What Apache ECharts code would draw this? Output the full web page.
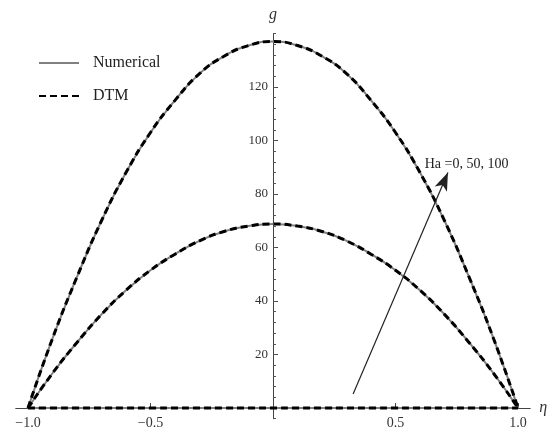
<!DOCTYPE html>
<html>
<head>
<meta charset="utf-8">
<title>g vs eta</title>
<script src="https://cdn.jsdelivr.net/npm/echarts@6/dist/echarts.min.js"></script>
<style>
  html, body { margin: 0; padding: 0; background: #fff; }
  #main { width: 555px; height: 432px; }
</style>
</head>
<body>
<div id="main"></div>
<script type="text/javascript">
    // eta positions and g values (Ha = 0, 50, 100)
    var etaVals = [-1.0, -0.9, -0.8, -0.7, -0.6, -0.5, -0.4, -0.3, -0.2, -0.1, 0.0,
                   0.1, 0.2, 0.3, 0.4, 0.5, 0.6, 0.7, 0.8, 0.9, 1.0];
    var gHa0   = [0, 26, 49, 70, 88, 103, 115, 125, 131.5, 135.5, 137,
                  135.5, 131.5, 125, 115, 103, 88, 70, 49, 26, 0];
    var gHa50  = [0, 13, 24.5, 35, 44, 51.5, 57.5, 62.5, 66, 68, 68.8,
                  68, 66, 62.5, 57.5, 51.5, 44, 35, 24.5, 13, 0];
    var gHa100 = [0, 0, 0, 0, 0, 0, 0, 0, 0, 0, 0,
                  0, 0, 0, 0, 0, 0, 0, 0, 0, 0];
    var xTickVals = [-1.0, -0.5, 0.5, 1.0];
    var yTickVals = [20, 40, 60, 80, 100, 120];
    var arrowFrom = [0.327, 5.2];
    var arrowTo = [0.714, 88];
    var arrowText = 'Ha =0, 50, 100';

    var X_MIN = -1.05, X_MAX = 1.05, Y_MIN = -4, Y_MAX = 140;

    function pairs(ys) {
        return etaVals.map(function (x, i) { return [x, ys[i]]; });
    }

    var serif = 'Liberation Serif';
    var curves = [gHa0, gHa50, gHa100];
    var series = [];

    // Numerical: solid grey, drawn underneath
    curves.forEach(function (c) {
        series.push({
            name: 'Numerical', type: 'line', smooth: true, symbol: 'none',
            data: pairs(c), z: 2,
            lineStyle: { color: '#808080', width: 2 },
            itemStyle: { color: '#808080' }
        });
    });
    // DTM: black dashes on top
    curves.forEach(function (c) {
        series.push({
            name: 'DTM', type: 'line', smooth: true, symbol: 'none',
            data: pairs(c), z: 3,
            lineStyle: { color: '#000', width: 3, type: [7, 4] },
            itemStyle: { color: '#000' }
        });
    });
    // arrow + label
    series[0].markLine = {
        silent: true, symbol: ['none', 'arrow'], symbolSize: [10, 18],
        lineStyle: { color: '#222', width: 1.2, type: 'solid' },
        label: { show: false },
        data: [[{ coord: arrowFrom }, { coord: arrowTo }]]
    };
    series[0].markPoint = {
        silent: true, symbol: 'circle', symbolSize: 0,
        label: { show: true, formatter: arrowText, color: '#222',
                 fontFamily: serif, fontSize: 14, position: 'inside' },
        data: [{ coord: [0.79, 91] }]
    };

    var myChart = echarts.init(document.getElementById('main'));
    myChart.setOption({
        animation: false,
        backgroundColor: '#fff',
        grid: { left: 15.75, right: 24.75, top: 33.5, bottom: 13.3,
                containLabel: false, outerBoundsMode: 'none' },
        legend: {
            data: ['Numerical', 'DTM'],
            orient: 'vertical', left: 38, top: 55,
            itemWidth: 40, itemHeight: 16, itemGap: 17, padding: 0,
            itemStyle: { opacity: 0 },
            textStyle: { fontFamily: serif, fontSize: 16, color: '#222',
                         padding: [0, 0, 0, 9] }
        },
        xAxis: {
            type: 'value', min: X_MIN, max: X_MAX, position: 'bottom',
            name: 'η', nameLocation: 'end', nameGap: 9,
            nameTextStyle: { fontFamily: serif, fontStyle: 'italic', fontSize: 16, color: '#333',
                             verticalAlign: 'middle' },
            axisLine: { onZero: false, lineStyle: { color: '#444', width: 1 } },
            axisTick: { show: true, inside: true, length: 5, customValues: xTickVals,
                        lineStyle: { color: '#444' } },
            axisLabel: {
                customValues: xTickVals, margin: 8,
                fontFamily: serif, fontSize: 14, color: '#333',
                formatter: function (v) {
                    return (v < 0 ? '\u2212' : '') + Math.abs(v).toFixed(1);
                }
            },
            splitLine: { show: false }
        },
        yAxis: [{
            type: 'value', min: Y_MIN, max: Y_MAX, position: 'left',
            name: 'g', nameLocation: 'end', nameGap: 11,
            nameTextStyle: { fontFamily: serif, fontStyle: 'italic', fontSize: 16, color: '#333' },
            axisLine: { onZero: false, lineStyle: { color: '#444', width: 1 } },
            axisTick: { show: true, inside: true, length: 5, customValues: yTickVals,
                        lineStyle: { color: '#444' } },
            axisLabel: { customValues: yTickVals, margin: 5,
                         fontFamily: serif, fontSize: 13, color: '#333' },
            splitLine: { show: false }
        }, {
            type: 'value', min: Y_MIN, max: Y_MAX, interval: 4, position: 'left',
            axisLine: { show: false, onZero: false },
            axisTick: { show: true, inside: true, length: 3, lineStyle: { color: '#555' } },
            axisLabel: { show: false },
            splitLine: { show: false }
        }],
        series: series
    });

    // move the axes so they cross at (0, 0), like the original figure
    var x0 = myChart.convertToPixel({ xAxisIndex: 0 }, 0);
    var xLeft = myChart.convertToPixel({ xAxisIndex: 0 }, X_MIN);
    var y0 = myChart.convertToPixel({ yAxisIndex: 0 }, 0);
    var yBottom = myChart.convertToPixel({ yAxisIndex: 0 }, Y_MIN);
    myChart.setOption({
        xAxis: { offset: -(yBottom - y0) },
        yAxis: [{ offset: -(x0 - xLeft) }, { offset: -(x0 - xLeft) }]
    });
</script>
</body>
</html>
